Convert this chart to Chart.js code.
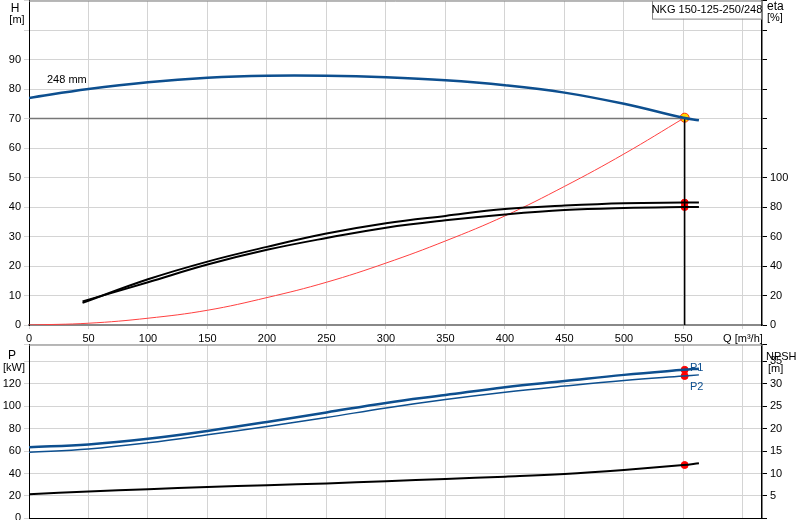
<!DOCTYPE html>
<html><head><meta charset="utf-8">
<script src="https://cdn.jsdelivr.net/npm/chart.js@4"></script>
<style>body{margin:0;background:#fff;overflow:hidden}canvas{position:absolute;left:0}</style>
</head><body>
<canvas id="c1" width="800" height="354" style="top:-9px"></canvas>
<canvas id="c2" width="800" height="193" style="top:335px"></canvas>
<script>
const qH=[0,50,100,150,200,250,300,350,400,450,500,550,563];
const H=[77,80,82.3,83.8,84.5,84.5,84,83,81.3,78.8,75,70.3,69.4];
const qEta=[45,100,150,200,250,300,350,400,450,500,550,563];
const eta1=[15,31,43,53,62,69,74,78.6,81,82.6,83,83];
const eta2=[16,29,41,51,59,66,71,75,78,79.4,80,80];
const qSys=[0,50,100,150,200,250,300,350,400,450,500,551];
const Hsys=[0,0.6,2.3,5,9.3,14.5,21,28.5,37,47,58,70.3];
const qP=[0,50,100,150,200,250,300,350,400,450,500,550,563];
const P1=[63.5,66,71,78,86,94.5,103,110,117,122.5,128,132.5,133.5];
const P2=[59,62,67.5,74.5,82,90,98.5,106,112.5,118,123,127,128];
const NPSH=[5.4,6,6.5,7,7.4,7.8,8.3,8.8,9.3,9.9,10.8,11.9,12.3];
const dutyQ=551, dutyH=70.3, dutyEta1=83, dutyEta2=80, dutyP1=132.5, dutyP2=127, dutyNPSH=11.9;
const xTicks=[0,50,100,150,200,250,300,350,400,450,500,550,600];
Chart.defaults.font.family='"Liberation Sans", Arial, sans-serif';
const pts=(xs,ys)=>xs.map((x,i)=>({x,y:ys[i]}));
const BLUE='#0d4f8f', GRID='#d4d4d4';
const F='12px "Liberation Sans", Arial, sans-serif', FS='11px "Liberation Sans", Arial, sans-serif';
function fixW(w){return s=>{s.width=w;};}
const textPlugin=(items)=>({id:'t',afterDraw(c){const x=c.ctx;x.save();items.forEach(it=>{x.font=it.f||F;x.fillStyle=it.c||'#000';x.textAlign=it.a||'left';x.textBaseline='top';x.fillText(it.t,it.x,it.y);});x.restore();}});
new Chart(document.getElementById('c1'),{
 type:'scatter',
 data:{datasets:[
  {data:pts(qH,H),borderColor:BLUE,borderWidth:2.5,showLine:true,pointRadius:0,tension:0.4,yAxisID:'y'},
  {data:pts(qEta,eta1),borderColor:'#000',borderWidth:2,showLine:true,pointRadius:0,tension:0.4,yAxisID:'y2'},
  {data:pts(qEta,eta2),borderColor:'#000',borderWidth:2,showLine:true,pointRadius:0,tension:0.4,yAxisID:'y2'},
  {data:pts(qSys,Hsys),borderColor:'#ff4040',borderWidth:1,showLine:true,pointRadius:0,tension:0.4,yAxisID:'y'},
  {data:[{x:0,y:70},{x:dutyQ,y:70}],borderColor:'#777',borderWidth:1.5,showLine:true,pointRadius:0,yAxisID:'y'},
  {data:[{x:dutyQ,y:dutyH},{x:dutyQ,y:0}],borderColor:'#000',borderWidth:1.5,showLine:true,pointRadius:0,yAxisID:'y'},
  {data:[{x:dutyQ,y:dutyEta1},{x:dutyQ,y:dutyEta2}],pointBackgroundColor:'#ff0000',pointBorderColor:'#ff0000',pointRadius:3.5,yAxisID:'y2'},
  {data:[{x:dutyQ,y:dutyH}],pointBackgroundColor:'#ffd700',pointBorderColor:'#ff3300',pointRadius:4.5,yAxisID:'y'}
 ]},
 options:{responsive:false,animation:false,devicePixelRatio:1,
  plugins:{legend:{display:false},tooltip:{enabled:false}},
  scales:{
   x:{type:'linear',min:0,max:616,afterBuildTicks:s=>{s.ticks=xTicks.map(v=>({value:v}));},
      ticks:{color:'#000',font:{size:11},maxRotation:0,autoSkip:false,callback:v=>v===600?'Q [m³/h]':v},
      grid:{color:GRID,tickLength:4},border:{color:'#888',width:2},afterFit:s=>{s.height=20;}},
   y:{position:'left',min:0,max:110,ticks:{stepSize:10,color:'#000',font:{size:11},callback:v=>v>90?'':v},
      grid:{color:GRID,tickLength:5},border:{color:'#000'},afterFit:fixW(29)},
   y2:{position:'right',min:0,max:220,ticks:{stepSize:20,color:'#000',font:{size:11},callback:v=>v>100?'':v},
      grid:{display:true,drawOnChartArea:false,tickLength:5,color:'#000'},border:{color:'#000',width:1.5},afterFit:fixW(38)}
  }},
 plugins:[{id:'box',afterDraw(c){const x=c.ctx,t=c.chartArea.top;x.save();x.strokeStyle='#888';x.beginPath();x.moveTo(29,t+0.5);x.lineTo(762,t+0.5);x.stroke();
   x.fillStyle='#fff';x.fillRect(652,t,109,18);x.strokeRect(652.5,t+0.5,109,18);x.restore();}},
  textPlugin([{t:'H',x:15,y:12,a:'center'},{t:'[m]',x:17,y:23,a:'center',f:FS},
   {t:'eta',x:767,y:10},{t:'[%]',x:767,y:21,f:FS},
   {t:'248 mm',x:47,y:83,f:FS},
   {t:'NKG 150-125-250/248',x:707,y:13,a:'center',f:FS}])]
});
new Chart(document.getElementById('c2'),{
 type:'scatter',
 data:{datasets:[
  {data:pts(qP,P1),borderColor:BLUE,borderWidth:2.5,showLine:true,pointRadius:0,tension:0.4,yAxisID:'y'},
  {data:pts(qP,P2),borderColor:BLUE,borderWidth:1.5,showLine:true,pointRadius:0,tension:0.4,yAxisID:'y'},
  {data:pts(qP,NPSH),borderColor:'#000',borderWidth:2,showLine:true,pointRadius:0,tension:0.4,yAxisID:'y2'},
  {data:[{x:dutyQ,y:dutyP1},{x:dutyQ,y:dutyP2}],pointBackgroundColor:'#ff0000',pointBorderColor:'#ff0000',pointRadius:3.5,yAxisID:'y'},
  {data:[{x:dutyQ,y:dutyNPSH}],pointBackgroundColor:'#ff0000',pointBorderColor:'#ff0000',pointRadius:3.5,yAxisID:'y2'}
 ]},
 options:{responsive:false,animation:false,devicePixelRatio:1,
  layout:{padding:{top:5}},
  plugins:{legend:{display:false},tooltip:{enabled:false}},
  scales:{
   x:{type:'linear',min:0,max:616,afterBuildTicks:s=>{s.ticks=xTicks.map(v=>({value:v}));},
      ticks:{display:false},grid:{color:GRID,drawTicks:false},border:{color:'#000'},afterFit:s=>{s.height=2;}},
   y:{position:'left',min:0,max:155,ticks:{stepSize:20,color:'#000',font:{size:11},callback:v=>v>120?'':v},
      grid:{color:GRID,tickLength:5},border:{color:'#000'},afterFit:fixW(29)},
   y2:{position:'right',min:0,max:38.75,ticks:{stepSize:5,color:'#000',font:{size:11},callback:v=>(v===0||v>35)?'':v},
      grid:{drawOnChartArea:false,tickLength:5,color:'#000'},border:{color:'#000',width:1.5},afterFit:fixW(38)}
  }},
 plugins:[{id:'top',afterDraw(c){const x=c.ctx,t=c.chartArea.top;x.save();x.strokeStyle='#888';x.beginPath();x.moveTo(29,t+0.5);x.lineTo(762,t+0.5);x.stroke();x.restore();}},
  textPlugin([{t:'P',x:12,y:15,a:'center'},{t:'[kW]',x:14,y:27,a:'center',f:FS},
   {t:'NPSH',x:766,y:16,f:FS},{t:'[m]',x:768,y:28,f:FS},
   {t:'P1',x:690,y:27,c:BLUE,f:FS},{t:'P2',x:690,y:46,c:BLUE,f:FS}])]
});
</script></body></html>
